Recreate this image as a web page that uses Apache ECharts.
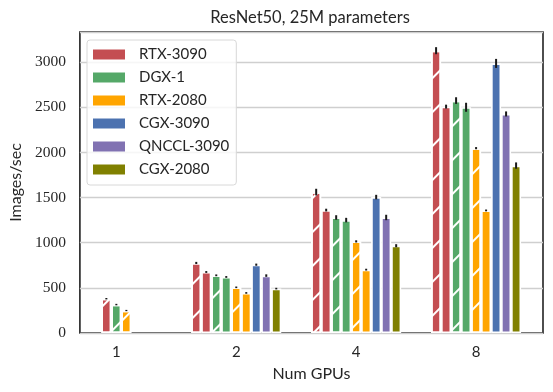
<!DOCTYPE html>
<html lang="en">
<head>
    <meta charset="UTF-8">
    <title>ResNet50, 25M parameters</title>
    <style>
        html, body { margin: 0; padding: 0; background: #fff; }
    </style>
</head>
<body>
<div id="chart" style="width: 553px;height: 392px;"></div>
<script src="https://cdn.jsdelivr.net/npm/echarts@6/dist/echarts.min.js"></script>
<script>
    /* x categories */
    var gpus = ['1', '2', '4', '8'];
    var yTicks = [0, 500, 1000, 1500, 2000, 2500, 3000];

    /* hatched bars (first bar of each pair) */
    var rtx3090Hatch = [380, 776, 1561, 3128];
    var dgx1Hatch    = [315, 639, 1280, 2575];
    var rtx2080Hatch = [249, 506, 1015, 2048];
    /* plain bars, no value at 1 GPU */
    var rtx3090   = [null, 676, 1362, 2508];
    var dgx1      = [null, 621, 1251, 2501];
    var rtx2080   = [null, 444, 702, 1358];
    var cgx3090   = [null, 757, 1506, 2987];
    var qnccl3090 = [null, 636, 1280, 2427];
    var cgx2080   = [null, 492, 967, 1855];

    /* error bar half lengths */
    var rtx3090HatchErr = [8, 12, 37, 39];
    var dgx1HatchErr    = [8, 10, 25, 37];
    var rtx2080HatchErr = [7, 9, 12, 12];
    var rtx3090Err   = [0, 10, 15, 22];
    var dgx1Err      = [0, 10, 25, 50];
    var rtx2080Err   = [0, 9, 10, 10];
    var cgx3090Err   = [0, 12, 25, 50];
    var qnccl3090Err = [0, 14, 30, 28];
    var cgx2080Err   = [0, 9, 17, 35];

    var colors = {
        'RTX-3090': '#C44E52',
        'DGX-1': '#55A868',
        'RTX-2080': '#FFA500',
        'CGX-3090': '#4C72B0',
        'QNCCL-3090': '#8172B2',
        'CGX-2080': '#808000'
    };

    var slotW = 10;
    var hatch = {
        symbol: 'rect',
        symbolSize: 1,
        color: '#ffffff',
        dashArrayX: [1, 0],
        dashArrayY: [1.8, 22],
        rotation: -Math.PI / 4
    };

    /* the 9 bars of the 2/4/8 GPU groups, left to right */
    var slots = [
        {name: 'RTX-3090', vals: rtx3090Hatch, err: rtx3090HatchErr, hatch: true},
        {name: 'RTX-3090', vals: rtx3090, err: rtx3090Err},
        {name: 'DGX-1', vals: dgx1Hatch, err: dgx1HatchErr, hatch: true},
        {name: 'DGX-1', vals: dgx1, err: dgx1Err},
        {name: 'RTX-2080', vals: rtx2080Hatch, err: rtx2080HatchErr, hatch: true},
        {name: 'RTX-2080', vals: rtx2080, err: rtx2080Err},
        {name: 'CGX-3090', vals: cgx3090, err: cgx3090Err},
        {name: 'QNCCL-3090', vals: qnccl3090, err: qnccl3090Err},
        {name: 'CGX-2080', vals: cgx2080, err: cgx2080Err}
    ];
    /* 1 GPU group only has the three hatched bars, centred */
    var firstSlots = [slots[0], slots[2], slots[4]];

    function barStyle(s) {
        var st = {color: colors[s.name], borderColor: '#fff', borderWidth: 1.6};
        if (s.hatch) st.decal = hatch;
        return st;
    }

    var series = [];
    var errData = [];
    slots.forEach(function (s, i) {
        var data = [];
        for (var k = 1; k < gpus.length; k++) {
            if (s.vals[k] == null) continue;
            data.push([k, s.vals[k]]);
            errData.push([k, s.vals[k], s.err[k], i - 4]);
        }
        series.push({
            name: s.hatch ? s.name + ' (hatched)' : s.name,
            type: 'bar',
            xAxisIndex: 0,
            barWidth: slotW,
            barGap: '0%',
            itemStyle: barStyle(s),
            data: data
        });
    });
    firstSlots.forEach(function (s, i) {
        series.push({
            name: s.name + ' (hatched)',
            type: 'bar',
            xAxisIndex: 1,
            barWidth: slotW,
            barGap: '0%',
            itemStyle: barStyle(s),
            data: [[0, s.vals[0]]]
        });
        errData.push([0, s.vals[0], s.err[0], i - 1]);
    });
    /* error bars */
    series.push({
        type: 'custom',
        xAxisIndex: 0,
        z: 5,
        silent: true,
        encode: {x: 0, y: 1},
        renderItem: function (params, api) {
            var x = api.coord([api.value(0), api.value(1)])[0] + api.value(3) * slotW;
            var lo = api.coord([0, api.value(1) - api.value(2)])[1];
            var hi = api.coord([0, api.value(1) + api.value(2)])[1];
            return {
                type: 'line',
                shape: {x1: x, y1: lo, x2: x, y2: hi},
                style: {stroke: '#1a1a1a', lineWidth: 2}
            };
        },
        data: errData
    });

    var xMin = -0.304, xMax = 3.558;
    var chart = echarts.init(document.getElementById('chart'));
    chart.setOption({
        animation: false,
        textStyle: {fontFamily: 'Lato', color: '#262626'},
        title: {
            text: 'ResNet50, 25M parameters',
            left: 310,
            textAlign: 'center',
            top: 9,
            padding: 0,
            textStyle: {fontFamily: 'Lato', fontSize: 16.5, fontWeight: 'normal', color: '#262626'}
        },
        legend: {
            data: ['RTX-3090', 'DGX-1', 'RTX-2080', 'CGX-3090', 'QNCCL-3090', 'CGX-2080'],
            orient: 'vertical',
            left: 87,
            top: 40,
            padding: [7, 7, 8, 6],
            itemGap: 8,
            itemWidth: 32,
            itemHeight: 10,
            icon: 'rect',
            borderColor: '#d8d8d8',
            borderWidth: 1,
            borderRadius: 3,
            backgroundColor: 'rgba(255,255,255,0.8)',
            itemStyle: {borderWidth: 0},
            textStyle: {fontFamily: 'Lato', fontSize: 15, color: '#262626', padding: [0, 0, 0, 9]}
        },
        grid: {
            left: 77, right: 10, top: 32, bottom: 59,
            show: true,
            borderColor: '#222222',
            borderWidth: 1.6
        },
        xAxis: [{
            type: 'value',
            min: xMin,
            max: xMax,
            name: 'Num GPUs',
            nameLocation: 'middle',
            nameGap: 33,
            nameTextStyle: {fontFamily: 'Lato', fontSize: 16, color: '#262626'},
            axisLine: {show: false},
            axisTick: {show: false},
            splitLine: {show: false},
            axisLabel: {
                customValues: [0, 1, 2, 3],
                formatter: function (v) { return gpus[Math.round(v)]; },
                margin: 12,
                fontFamily: 'Lato',
                fontSize: 15,
                color: '#262626'
            }
        }, {
            type: 'value',
            min: xMin,
            max: xMax,
            show: false,
            splitLine: {show: false}
        }],
        yAxis: {
            type: 'value',
            min: 0,
            max: 3335,
            interval: 500,
            name: 'Images/sec',
            nameLocation: 'middle',
            nameGap: 53,
            nameTextStyle: {fontFamily: 'Lato', fontSize: 16, color: '#262626'},
            axisLine: {show: false},
            axisTick: {show: false},
            axisLabel: {
                showMaxLabel: false,
                margin: 14,
                fontFamily: 'Liberation Serif',
                fontSize: 15.5,
                color: '#262626',
                formatter: function (v) { return yTicks.indexOf(v) >= 0 ? String(v) : ''; }
            },
            splitLine: {lineStyle: {color: '#cfcfcf', width: 1.3}}
        },
        series: series
    });
</script>
</body>
</html>
